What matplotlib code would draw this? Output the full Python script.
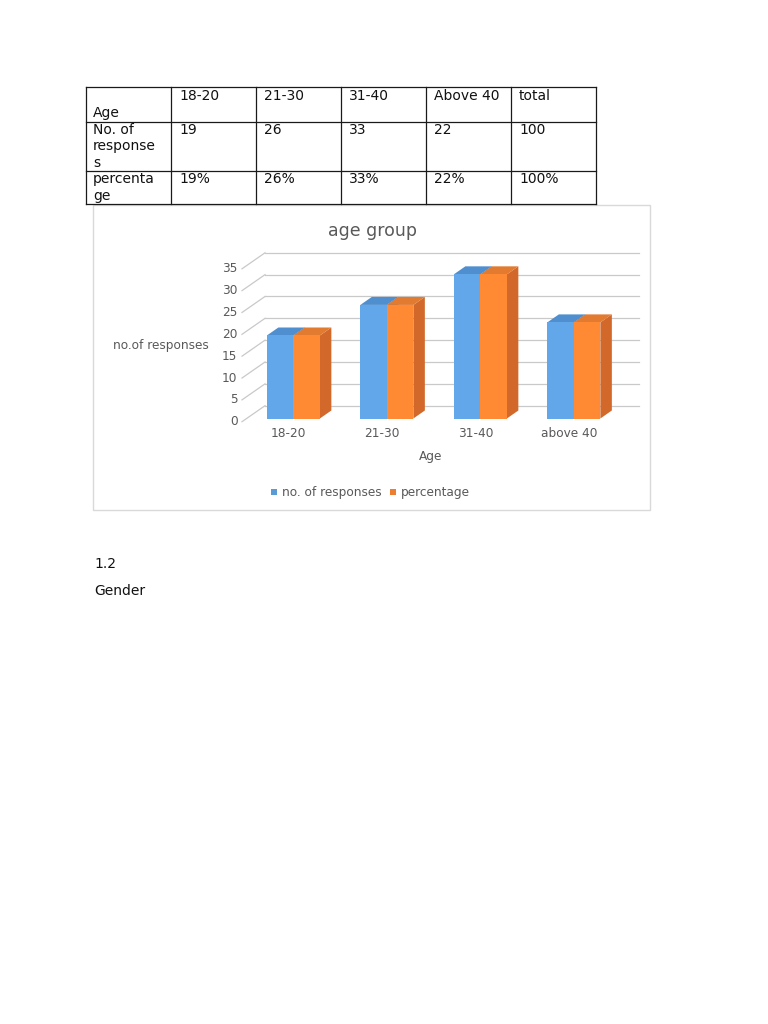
import matplotlib
matplotlib.use("Agg")
import matplotlib.pyplot as plt
from matplotlib.patches import Polygon, Rectangle

plt.rcParams['font.family'] = ['DejaVu Sans']

# ---------------- data ----------------
table_header = ["Age", "18-20", "21-30", "31-40", "Above 40", "total"]
table_row_label1 = ["No. of", "response", "s"]
table_responses = ["19", "26", "33", "22", "100"]
table_row_label2 = ["percenta", "ge"]
table_percent = ["19%", "26%", "33%", "22%", "100%"]

categories = ["18-20", "21-30", "31-40", "above 40"]
responses = [19, 26, 33, 22]
percentage = [19, 26, 33, 22]
series_names = ["no. of responses", "percentage"]
y_ticks = [0, 5, 10, 15, 20, 25, 30, 35]

chart_title = "age group"
x_label = "Age"
y_label = "no.of responses"

# ---------------- figure ----------------
W, H = 768, 1024
fig = plt.figure(figsize=(W / 100, H / 100), dpi=100)
fig.patch.set_facecolor("white")
page = fig.add_axes([0, 0, 1, 1])
page.set_xlim(0, W)
page.set_ylim(H, 0)
page.axis("off")

# ---------------- table ----------------
col_edges = [86, 171, 256, 341, 426, 511, 596]
row_edges = [87, 122, 171, 204]
for x in col_edges:
    page.plot([x, x], [row_edges[0], row_edges[-1]], color="#1a1a1a", lw=0.9)
for y in row_edges:
    page.plot([col_edges[0], col_edges[-1]], [y, y], color="#1a1a1a", lw=0.9)

tfs = 10
tcol = "#111111"
pad_first = 7
pad = 8
# header row
page.text(col_edges[0] + pad_first, 117, table_header[0], fontsize=tfs, color=tcol,
          va="baseline", ha="left")
for j, t in enumerate(table_header[1:]):
    page.text(col_edges[j + 1] + pad, 100.5, t, fontsize=tfs, color=tcol,
              va="baseline", ha="left")
# responses row
for k, t in enumerate(table_row_label1):
    page.text(col_edges[0] + pad_first, 133.5 + 16.8 * k, t, fontsize=tfs, color=tcol,
              va="baseline", ha="left")
for j, t in enumerate(table_responses):
    page.text(col_edges[j + 1] + pad, 133.5, t, fontsize=tfs, color=tcol,
              va="baseline", ha="left")
# percentage row
for k, t in enumerate(table_row_label2):
    page.text(col_edges[0] + pad_first, 183 + 16.8 * k, t, fontsize=tfs, color=tcol,
              va="baseline", ha="left")
for j, t in enumerate(table_percent):
    page.text(col_edges[j + 1] + pad, 183, t, fontsize=tfs, color=tcol,
              va="baseline", ha="left")

# ---------------- chart frame ----------------
page.add_patch(Rectangle((93, 205), 557, 305, facecolor="white",
                         edgecolor="#d9d9d9", lw=1.0, zorder=0))

txt = "#595959"
page.text(372, 231, chart_title, fontsize=12.5, color=txt, ha="center", va="center")
page.text(161, 346, y_label, fontsize=8.7, color=txt, ha="center", va="center")
page.text(431, 456.5, x_label, fontsize=8.7, color=txt, ha="center", va="center")

# legend
leg_colors = ["#5b9bd5", "#ed7d31"]
page.add_patch(Rectangle((271, 489), 6, 6, facecolor=leg_colors[0], edgecolor="none"))
page.text(282, 492.5, series_names[0], fontsize=8.7, color=txt, ha="left", va="center")
page.add_patch(Rectangle((390, 489), 6, 6, facecolor=leg_colors[1], edgecolor="none"))
page.text(401, 492.5, series_names[1], fontsize=8.7, color=txt, ha="left", va="center")

# ---------------- 3D-like bar chart ----------------
x0px, y0px = 242.0, 421.7          # front plane origin (pixels)
plot_w, plot_h = 374.0, 152.9      # front plane size for x range & 0..35
ax = fig.add_axes([x0px / W, 1 - y0px / H, plot_w / W, plot_h / H])
ax.set_xlim(-0.5, len(categories) - 0.5)
ax.set_ylim(0, 35)
ax.axis("off")

px_x = plot_w / len(categories)
px_y = plot_h / 35.0
DEPTH_DX, DEPTH_DY = 23.0, 16.0


def off(d):
    return DEPTH_DX * d / px_x, DEPTH_DY * d / px_y


grid_c = "#c9c9c9"
bx, by = off(1.0)
for v in y_ticks:
    ax.plot([-0.5 + bx, len(categories) - 0.5 + bx], [v + by, v + by],
            color=grid_c, lw=0.9, clip_on=False, zorder=1)
    ax.plot([-0.5, -0.5 + bx], [v, v + by], color=grid_c, lw=0.9,
            clip_on=False, zorder=1)
    ax.annotate(str(v), (-0.5, v), xytext=(-4.5, 0), textcoords="offset pixels",
                ha="right", va="center", fontsize=8.7, color=txt)

for i, c in enumerate(categories):
    ax.annotate(c, (i, 0), xytext=(0, -11.5), textcoords="offset pixels",
                ha="center", va="center", fontsize=8.7, color=txt)

bar_w = 26.5 / px_x
fx, fy = off(0.2)
kx, ky = off(0.7)
faces = [
    dict(front="#62a7e9", top="#4f8fcf", side="#3f7fbf"),
    dict(front="#ff8a33", top="#e27a30", side="#d2692a"),
]
series = [responses, percentage]
for i in range(len(categories)):
    for s, vals in enumerate(series):
        v = vals[i]
        xa = i - bar_w + s * bar_w
        xb = xa + bar_w
        col = faces[s]
        side = [(xb + fx, fy), (xb + fx, v + fy), (xb + kx, v + ky), (xb + kx, ky)]
        top = [(xa + fx, v + fy), (xb + fx, v + fy), (xb + kx, v + ky), (xa + kx, v + ky)]
        front = [(xa + fx, fy), (xb + fx, fy), (xb + fx, v + fy), (xa + fx, v + fy)]
        z = 3 + s
        ax.add_patch(Polygon(side, closed=True, facecolor=col["side"], edgecolor="none",
                             clip_on=False, zorder=z))
        ax.add_patch(Polygon(top, closed=True, facecolor=col["top"], edgecolor="none",
                             clip_on=False, zorder=z))
        ax.add_patch(Polygon(front, closed=True, facecolor=col["front"], edgecolor="none",
                             clip_on=False, zorder=z))

# ---------------- body text ----------------
page.text(94, 564, "1.2", fontsize=10, color="#111111", ha="left", va="center")
page.text(94, 591, "Gender", fontsize=10, color="#111111", ha="left", va="center")

fig.savefig("out.png", dpi=100, facecolor="white")
